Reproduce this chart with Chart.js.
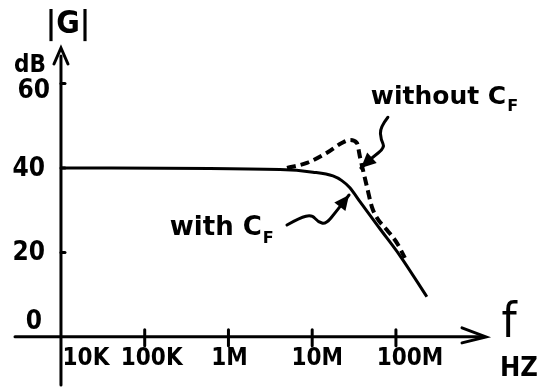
<!DOCTYPE html>
<html>
<head>
<meta charset="utf-8">
<script src="https://cdn.jsdelivr.net/npm/chart.js@4"></script>
<style>
  body { margin: 0; background: #fff; }
  #wrap { width: 545px; height: 388px; }
</style>
</head>
<body>
<div id="wrap"><canvas id="bode"></canvas></div>
<script>
// ---------- data ----------
const withFreq   = [1e4, 4.12e6, 1.02e7, 1.77e7, 2.26e7, 2.82e7, 3.72e7, 6.44e7, 1.12e8, 2.34e8];
const withGain   = [40, 39.6, 39.0, 38.1, 37.0, 35.3, 32.0, 25.6, 19.2, 9.5];

const withoutFreq = [5.0e6, 8.65e6, 1.5e7, 2.26e7, 2.82e7, 3.42e7, 3.72e7, 4.04e7, 4.51e7, 5.16e7, 5.93e7, 7.82e7, 1.03e8, 1.28e8];
const withoutGain = [40, 41.2, 43.6, 45.9, 46.6, 45.9, 42.6, 39.5, 35.5, 30.8, 28.2, 25.3, 22.2, 18.7];

const xTicks = [1e4, 1e5, 1e6, 1e7, 1e8];
const xTickLabels = ["10K", "100K", "1M", "10M", "100M"];
const yTicks = [20, 40, 60];
const yTickLabels = ["20", "40", "60"];

// squiggly pointer arrows, [log10(f), dB]
const withArrow = [[6.699, 26.5], [6.854, 28.2], [6.997, 28.9], [7.069, 27.2], [7.164, 26.7], [7.284, 29.6], [7.440, 33.6]];
const withoutArrow = [[7.904, 52.0], [7.809, 49.6], [7.821, 46.7], [7.869, 44.8], [7.713, 42.4], [7.582, 40.0]];

const toPts = (xs, ys) => xs.map((x, i) => ({ x: x, y: ys[i] }));

const INK = "#000";
const HAND = "'DejaVu Sans Condensed', 'Liberation Sans Narrow', 'DejaVu Sans', sans-serif";
const NOTE = "'DejaVu Sans', sans-serif";

function arrowHead(ctx, fromX, fromY, toX, toY, len, half) {
  const a = Math.atan2(toY - fromY, toX - fromX);
  ctx.beginPath();
  ctx.moveTo(toX, toY);
  ctx.lineTo(toX - len * Math.cos(a) + half * Math.sin(a), toY - len * Math.sin(a) - half * Math.cos(a));
  ctx.lineTo(toX - len * Math.cos(a) - half * Math.sin(a), toY - len * Math.sin(a) + half * Math.cos(a));
  ctx.closePath();
  ctx.fill();
}

function squiggle(ctx, chart, pts) {
  const xs = chart.scales.x, ys = chart.scales.y;
  const p = pts.map(q => [xs.getPixelForValue(Math.pow(10, q[0])), ys.getPixelForValue(q[1])]);
  ctx.beginPath();
  ctx.moveTo(p[0][0], p[0][1]);
  for (let i = 1; i < p.length - 1; i++) {
    const mx = (p[i][0] + p[i + 1][0]) / 2, my = (p[i][1] + p[i + 1][1]) / 2;
    ctx.quadraticCurveTo(p[i][0], p[i][1], mx, my);
  }
  const n = p.length;
  ctx.lineTo(p[n - 1][0], p[n - 1][1]);
  ctx.stroke();
  arrowHead(ctx, p[n - 2][0], p[n - 2][1], p[n - 1][0], p[n - 1][1], 15, 7);
}

// hand-drawn style axes, ticks and notes
const sketchAxes = {
  id: "sketchAxes",
  afterDraw(chart) {
    const ctx = chart.ctx;
    const xs = chart.scales.x, ys = chart.scales.y;
    const area = chart.chartArea;
    const x0 = xs.getPixelForValue(1e4);
    const y0 = ys.getPixelForValue(0);

    ctx.save();
    ctx.strokeStyle = INK;
    ctx.fillStyle = INK;
    ctx.lineCap = "round";
    ctx.lineWidth = 3;

    // y axis
    ctx.beginPath();
    ctx.moveTo(x0, area.bottom);
    ctx.lineTo(x0, area.top + 8);
    ctx.stroke();
    ctx.beginPath();
    ctx.moveTo(x0 - 7, area.top + 16);
    ctx.lineTo(x0, area.top);
    ctx.lineTo(x0 + 7, area.top + 16);
    ctx.stroke();

    // x axis
    ctx.beginPath();
    ctx.moveTo(area.left, y0);
    ctx.lineTo(area.right - 4, y0);
    ctx.stroke();
    ctx.beginPath();
    ctx.moveTo(area.right - 24, y0 - 9);
    ctx.lineTo(area.right, y0);
    ctx.lineTo(area.right - 24, y0 + 6);
    ctx.stroke();

    // x ticks + labels
    ctx.font = "bold 24px " + HAND;
    ctx.textAlign = "center";
    ctx.textBaseline = "middle";
    const xOff = [25, 7, 1, 5, 14];
    xTicks.forEach((v, i) => {
      const px = xs.getPixelForValue(v);
      if (i > 0) {
        ctx.beginPath();
        ctx.moveTo(px, y0 - 7);
        ctx.lineTo(px, y0 + 9);
        ctx.stroke();
      }
      ctx.fillText(xTickLabels[i], px + xOff[i], y0 + 22);
    });

    // y ticks + labels
    ctx.textAlign = "right";
    ctx.font = "bold 26px " + HAND;
    yTicks.forEach((v, i) => {
      const py = ys.getPixelForValue(v);
      ctx.beginPath();
      ctx.moveTo(x0, py);
      ctx.lineTo(x0 + 4, py);
      ctx.stroke();
      ctx.fillText(yTickLabels[i], x0 - (v === 60 ? 11 : 16), py + (v === 60 ? 8 : 1));
    });
    ctx.fillText("0", x0 - 19, y0 - 15);

    ctx.font = "bold 24px " + HAND;
    ctx.fillText("dB", x0 - 15, ys.getPixelForValue(64.2));

    ctx.textAlign = "center";
    ctx.font = "bold 32px " + HAND;
    ctx.fillText("|G|", x0 + 7, 25);

    ctx.font = "48px " + HAND;
    ctx.fillText("f", area.right + 23, y0 - 12);
    ctx.font = "bold 27px " + HAND;
    ctx.fillText("HZ", area.right + 33, y0 + 32);

    // notes
    ctx.textAlign = "left";
    ctx.font = "bold 26px " + NOTE;
    const wx = xs.getPixelForValue(Math.pow(10, 5.30)), wy = ys.getPixelForValue(25.6);
    ctx.fillText("with C", wx, wy);
    let w = ctx.measureText("with C").width;
    ctx.font = "bold 16px " + NOTE;
    ctx.fillText("F", wx + w + 1, wy + 10);

    ctx.font = "bold 25px " + NOTE;
    const ox = xs.getPixelForValue(Math.pow(10, 7.70)), oy = ys.getPixelForValue(56.6);
    ctx.fillText("without C", ox, oy);
    w = ctx.measureText("without C").width;
    ctx.font = "bold 16px " + NOTE;
    ctx.fillText("F", ox + w + 1, oy + 9);

    ctx.lineWidth = 3;
    squiggle(ctx, chart, withArrow);
    squiggle(ctx, chart, withoutArrow);

    ctx.restore();
  }
};

new Chart(document.getElementById("bode"), {
  type: "line",
  data: {
    datasets: [
      {
        label: "with CF",
        data: toPts(withFreq, withGain),
        borderColor: INK,
        borderWidth: 3,
        pointRadius: 0,
        cubicInterpolationMode: "monotone",
        fill: false
      },
      {
        label: "without CF",
        data: toPts(withoutFreq, withoutGain),
        borderColor: INK,
        borderWidth: 4,
        borderDash: [9, 5],
        pointRadius: 0,
        cubicInterpolationMode: "monotone",
        fill: false
      }
    ]
  },
  options: {
    responsive: true,
    maintainAspectRatio: false,
    animation: false,
    layout: { padding: { left: 15, right: 59, top: 48, bottom: 3 } },
    plugins: { legend: { display: false }, tooltip: { enabled: false } },
    scales: {
      x: { type: "logarithmic", min: 2825, max: 1.19e9, display: false },
      y: { type: "linear", min: -11.4, max: 68.4, display: false }
    }
  },
  plugins: [sketchAxes]
});
</script>
</body>
</html>
